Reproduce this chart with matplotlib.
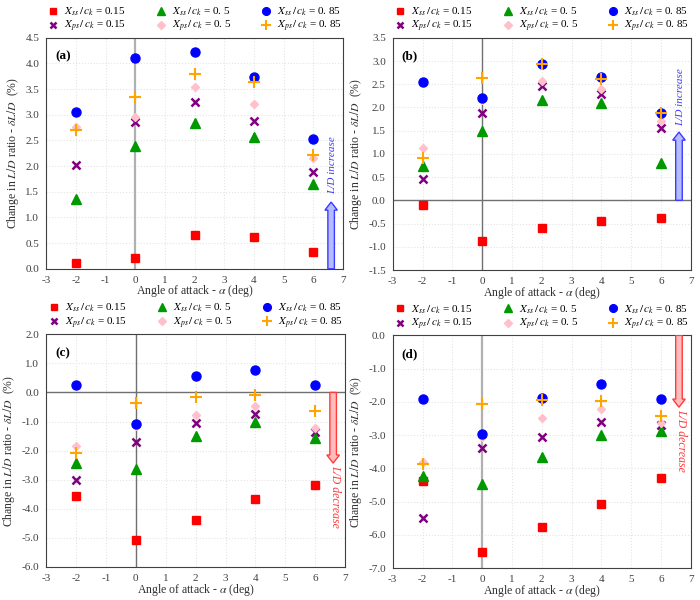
import matplotlib
matplotlib.use("Agg")
import matplotlib.pyplot as plt
from matplotlib.patches import FancyArrow

plt.rcParams['font.family'] = ['Liberation Serif', 'DejaVu Serif']
plt.rcParams['mathtext.fontset'] = 'stix'
plt.rcParams['axes.unicode_minus'] = False

# angle of attack
aoa = [-2, 0, 2, 4, 6]

# panel (a)
a_ss015 = [0.12, 0.22, 0.66, 0.62, 0.33]
a_ss05 = [1.36, 2.40, 2.84, 2.56, 1.65]
a_ss085 = [3.05, 4.10, 4.23, 3.73, 2.53]
a_ps015 = [2.02, 2.86, 3.24, 2.87, 1.88]
a_ps05 = [2.77, 2.96, 3.54, 3.21, 2.15]
a_ps085 = [2.70, 3.34, 3.80, 3.63, 2.22]

# panel (b)
b_ss015 = [-0.11, -0.87, -0.59, -0.44, -0.38]
b_ss05 = [0.73, 1.49, 2.17, 2.09, 0.81]
b_ss085 = [2.54, 2.20, 2.94, 2.65, 1.89]
b_ps015 = [0.47, 1.89, 2.46, 2.29, 1.55]
b_ps05 = [1.12, 2.15, 2.58, 2.39, 1.71]
b_ps085 = [0.91, 2.64, 2.94, 2.61, 1.89]

# panel (c)
c_ss015 = [-3.55, -5.07, -4.37, -3.66, -3.17]
c_ss05 = [-2.42, -2.62, -1.50, -1.00, -1.58]
c_ss085 = [0.27, -1.08, 0.58, 0.78, 0.24]
c_ps015 = [-3.02, -1.72, -1.05, -0.73, -1.37]
c_ps05 = [-1.85, -1.15, -0.78, -0.46, -1.22]
c_ps085 = [-2.08, -0.35, -0.16, -0.09, -0.65]

# panel (d)
d_ss015 = [-4.38, -6.52, -5.77, -5.07, -4.30]
d_ss05 = [-4.23, -4.47, -3.65, -3.00, -2.86]
d_ss085 = [-1.92, -2.97, -1.88, -1.47, -1.92]
d_ps015 = [-5.48, -3.39, -3.07, -2.60, -2.70]
d_ps05 = [-3.80, -3.07, -2.47, -2.22, -2.63]
d_ps085 = [-3.88, -2.05, -1.93, -1.97, -2.43]

labels = [r"$X_{ss}\,/\,c_k$ = 0.15", r"$X_{ps}\,/\,c_k$ = 0.15",
          r"$X_{ss}\,/\,c_k$ = 0. 5", r"$X_{ps}\,/\,c_k$ = 0. 5",
          r"$X_{ss}\,/\,c_k$ = 0. 85", r"$X_{ps}\,/\,c_k$ = 0. 85"]

# name, series, y axis, arrow kind, arrow length, text offset, axes position
panels = [
    ("(a)", [a_ss015, a_ps015, a_ss05, a_ps05, a_ss085, a_ps085], (0.0, 4.5, 0.5), "inc",
     1.3, 0.72, [0.066, 0.552, 0.424, 0.385]),
    ("(b)", [b_ss015, b_ps015, b_ss05, b_ps05, b_ss085, b_ps085], (-1.5, 3.5, 0.5), "inc",
     1.47, 0.76, [0.561, 0.550, 0.426, 0.387]),
    ("(c)", [c_ss015, c_ps015, c_ss05, c_ps05, c_ss085, c_ps085], (-6.0, 2.0, 1.0), "dec",
     2.43, 1.15, [0.066, 0.055, 0.427, 0.388]),
    ("(d)", [d_ss015, d_ps015, d_ss05, d_ps05, d_ss085, d_ps085], (-7.0, 0.0, 1.0), "dec",
     2.16, 1.0, [0.561, 0.053, 0.426, 0.388]),
]

styles = [
    dict(marker='s', color='#ff0000', ms=5.5, ls='none'),
    dict(marker='x', color='#800080', ms=5.5, mew=1.8, ls='none'),
    dict(marker='^', color='#009900', ms=6.5, ls='none'),
    dict(marker='D', color='#ffc0cb', ms=4.5, ls='none'),
    dict(marker='o', color='#0000ff', ms=6.5, ls='none'),
    dict(marker='+', color='#ffa500', ms=8, mew=1.5, ls='none'),
]

fig = plt.figure(figsize=(7, 6), dpi=100)

for name, series, (ymin, ymax, step), kind, L, off, pos in panels:
    ax = fig.add_axes(pos)
    ax.set_xlim(-3, 7)
    ax.set_ylim(ymin, ymax)
    nt = int(round((ymax - ymin) / step)) + 1
    yt = [ymin + i * step for i in range(nt)]
    ax.set_yticks(yt)
    ax.set_yticklabels(["%.1f" % v for v in yt])
    ax.set_xticks(range(-3, 8))
    ax.grid(True, color='#e4e4e4', ls=':', lw=0.8)
    ax.set_axisbelow(True)
    for s in ax.spines.values():
        s.set_color('#404040')
    ax.tick_params(length=0, labelsize=8, colors='#404040', pad=5)

    # zero lines
    if ymin < 0 < ymax:
        ax.axhline(0, color='#707070', lw=1.0, zorder=1)
        ax.axvline(0, color='#707070', lw=1.0, zorder=1)
    else:
        ax.axvline(0, color='#b0b0b0', lw=1.6, zorder=1)

    for vals, st, lab in zip(series, styles, labels):
        ax.plot(aoa, vals, label=lab, zorder=3, **st)

    ax.text(0.03, 0.92, name, transform=ax.transAxes, fontsize=9.5,
            fontweight='bold', va='center')
    ax.set_xlabel(r"Angle of attack - $\alpha$ (deg)", fontsize=8.5, labelpad=-1,
                  color='#303030')
    ax.set_ylabel(r"Change in $L/D$ ratio - $\delta L/D$  (%)", fontsize=8.5,
                  labelpad=3, color='#303030')

    rng = ymax - ymin
    if kind == "inc":
        arr = FancyArrow(6.6, 0, 0, L, width=0.22, head_width=0.42,
                         head_length=rng * 0.035, length_includes_head=True,
                         fc='#b4bcff', ec='#3b3bff', lw=1.0, zorder=4)
        ax.add_patch(arr)
        ax.text(6.66, L + off, "L/D increase", color='#3b3bff',
                style='italic', rotation=90, ha='center', va='center', fontsize=8)
    else:
        arr = FancyArrow(6.6, 0, 0, -L, width=0.22, head_width=0.42,
                         head_length=rng * 0.035, length_includes_head=True,
                         fc='#ffbcbc', ec='#ff3b3b', lw=1.0, zorder=4)
        ax.add_patch(arr)
        ax.text(6.66, -L - off, "L/D decrease", color='#ff3b3b',
                style='italic', rotation=-90, ha='center', va='center', fontsize=8.5)

    ax.legend(loc='lower center', bbox_to_anchor=(0.5, 1.0), ncol=3, frameon=False,
              fontsize=8, handletextpad=0.5, columnspacing=2.6, labelspacing=0.12,
              borderaxespad=0.1, borderpad=0.2, handlelength=1.0, markerscale=0.85)

fig.savefig("out.png", dpi=100)
